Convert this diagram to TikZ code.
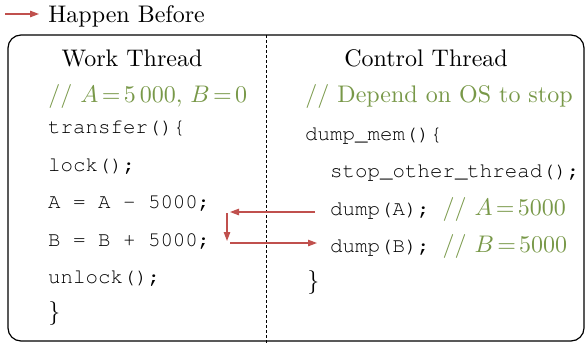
\documentclass[tikz,border=0pt]{standalone}
\usetikzlibrary{arrows.meta}
\definecolor{cmtgreen}{RGB}{120,152,72}
\definecolor{hbred}{RGB}{192,80,77}
% Courier for the code lines, 10pt Latin Modern (scaled) for the rest
\newcommand\codefont{\fontencoding{T1}\fontfamily{pcr}\fontsize{20.8}{24}\selectfont}
\newcommand\cmtfont{\fontencoding{TU}\fontfamily{lmr}\fontsize{10}{12}\selectfont\thickmuskip=2.5mu\relax}
\newcommand\inlinecmt[1]{\textcolor{cmtgreen}{\scalebox{2.4}{\cmtfont #1}}}
\tikzset{
  big/.style={scale=2.4, transform shape, font=\fontsize{10}{12}\selectfont},
  lbl/.style={inner sep=0pt, anchor=base, big},
  code/.style={inner sep=0pt, anchor=base west, font=\codefont},
  cmt/.style={inner sep=0pt, anchor=base west, text=cmtgreen, scale=2.4, transform shape, font=\cmtfont},
  brace/.style={inner sep=0pt, anchor=base west, big},
  hb/.style={draw=hbred, line width=1.2pt, -{Triangle[length=9pt,width=6.5pt]}},
}
\begin{document}
\begin{tikzpicture}[x=1pt, y=-1pt]
\useasboundingbox (0,0) rectangle (585,343);

% legend
\coordinate (legA) at (5,14);
\coordinate (legB) at (39,14);
\draw[hb] (legA) -- (legB);
\node[inner sep=0pt, anchor=base west, big] (legtxt) at (48,22) {Happen Before};

% frame and thread divider
\draw[line width=1.2pt, rounded corners=13pt] (8,35) rectangle (584,341);
\coordinate (divtop) at (266,35);
\coordinate (divbot) at (266,343);
\draw[line width=1pt, densely dashed] (divtop) -- (divbot);

% work thread
\node[lbl] (wt) at (132,66.5) {Work Thread};
\node[cmt] (wc) at (48,102) {// $A=5\,000$, $B=0$};
\node[code] (w1) at (48,133.5) {transfer()\{};
\node[code] (w2) at (48,171) {lock();};
\node[code] (w3) at (48,208.5) {A = A - 5000;};
\node[code] (w4) at (48,246) {B = B + 5000;};
\node[code] (w5) at (48,283.5) {unlock();};
\node[brace] (w6) at (48,319) {\}};

% control thread
\node[lbl] (ct) at (426,66) {Control Thread};
\node[cmt] (cc) at (305,102.5) {// Depend on OS to stop};
\node[code] (c1) at (305,140) {dump\_mem()\{};
\node[code] (c2) at (330,177) {stop\_other\_thread();};
\node[code] (c3) at (330,215.5) {dump(A); \inlinecmt{// $A=5000$}};
\node[code] (c4) at (330,252) {dump(B); \inlinecmt{// $B=5000$}};
\node[brace] (c5) at (307,288) {\}};

% happen-before edges
\coordinate (aOut) at ([xshift=-15pt]c3.west |- 0,212);
\coordinate (aIn) at (230,212);
\coordinate (dTop) at (227,213);
\coordinate (dBot) at (227,241);
\coordinate (bOut) at (230,243);
\coordinate (bIn) at ([xshift=-13pt]c4.west |- 0,243);
\draw[hb] (aOut) -- (aIn);
\draw[hb] (dTop) -- (dBot);
\draw[hb] (bOut) -- (bIn);
\end{tikzpicture}
\end{document}
